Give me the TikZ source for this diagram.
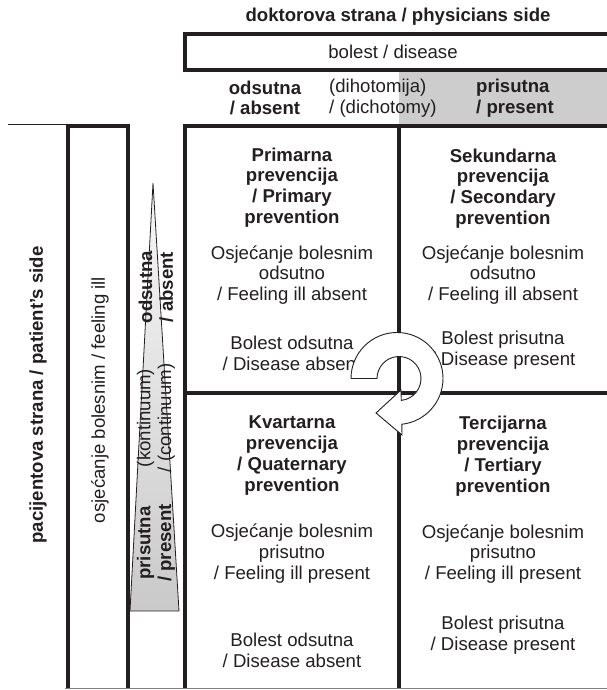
\documentclass[tikz,border=0pt]{standalone}
\usepackage{fontspec}
\setmainfont{Liberation Sans}
\definecolor{lc}{HTML}{231F20}
\definecolor{hdrgray}{HTML}{CDCDCD}
\begin{document}
\begin{tikzpicture}[x=1pt,y=1pt,
  thickline/.style={line width=3.6pt, draw=lc},
  thinline/.style={line width=1pt, draw=lc},
  txt/.style={font=\fontsize{18.6}{20.8}\selectfont, align=center, inner sep=0pt, text=lc},
  btxt/.style={txt, font=\fontsize{18.6}{20.8}\selectfont\bfseries},
  rtxt/.style={rotate=90}
]
\useasboundingbox (0,0) rectangle (607,690);
% header gray
\fill[hdrgray] (399,620) rectangle (607,566);
% bolest box
\draw[thickline] (607,656) -- (185,656) -- (185,620) -- (607,620);
% left columns
\draw[thinline] (8,565) -- (68,565);
\draw[thickline] (68,1) -- (68,564) -- (128,564) -- (128,1);
% grid
\draw[thickline] (185,1) -- (185,564) -- (607,564);
\draw[thickline] (399,1) -- (399,564);
\draw[thickline] (185,297) -- (607,297);
\draw[line width=1pt, draw=gray] (65,1) -- (607,1);

% texts top
\node[btxt] (title) at (398,673) {doktorova strana / physicians side};
\node[txt] (bolest) at (393,638) {bolest / disease};
\node[btxt] (odsH) at (265,592) {odsutna\\/ absent};
\node[txt, anchor=west, align=left] (dih) at (329,592) {(dihotomija)\\/ (dichotomy)};
\node[btxt, anchor=west, align=left] (prisH) at (476,592) {prisutna\\/ present};

% left rotated
\node[btxt, rtxt] (patient) at (38,295) {pacijentova strana / patient’s side};
\node[txt, rtxt] (feelill) at (100,290) {osjećanje bolesnim / feeling ill};

% triangle
\draw[line width=0.8pt, draw=lc, top color=gray!6, bottom color=gray!42] (153,507) -- (130,79) -- (179,79) -- cycle;
\node[btxt, rtxt] (tabs) at (156,403) {odsutna\\/ absent};
\node[txt, rtxt] (tcont) at (156,272) {(kontinuum)\\/ (continuum)};
\node[btxt, rtxt] (tpres) at (156,147) {prisutna\\/ present};

% cells
\node[btxt] (c1h) at (292,502.5) {Primarna\\prevencija\\/ Primary\\prevention};
\node[txt] (c1f) at (292,415) {Osjećanje bolesnim\\odsutno\\/ Feeling ill absent};
\node[txt] (c1b) at (292,337) {Bolest odsutna\\/ Disease absent};

\node[btxt] (c2h) at (503,501.5) {Sekundarna\\prevencija\\/ Secondary\\prevention};
\node[txt] (c2f) at (503,415) {Osjećanje bolesnim\\odsutno\\/ Feeling ill absent};
\node[txt] (c2b) at (503,340) {Bolest prisutna\\/ Disease present};

\node[btxt] (c3h) at (292,234.5) {Kvartarna\\prevencija\\/ Quaternary\\prevention};
\node[txt] (c3f) at (292,136.5) {Osjećanje bolesnim\\prisutno\\/ Feeling ill present};
\node[txt] (c3b) at (292,39.5) {Bolest odsutna\\/ Disease absent};

\node[btxt] (c4h) at (503,234) {Tercijarna\\prevencija\\/ Tertiary\\prevention};
\node[txt] (c4f) at (503,136) {Osjećanje bolesnim\\prisutno\\/ Feeling ill present};
\node[txt] (c4b) at (503,54.5) {Bolest prisutna\\/ Disease present};

% circular arrow
\draw[fill=white, line width=0.9pt, draw=lc, line join=miter]
  (351,311.5) arc[start angle=180, end angle=-84, radius=46]
  -- (402,255) -- (376,277) -- (401,300) -- (401.3,289.6)
  arc[start angle=-84, end angle=180, radius=22] -- cycle;
\end{tikzpicture}
\end{document}
